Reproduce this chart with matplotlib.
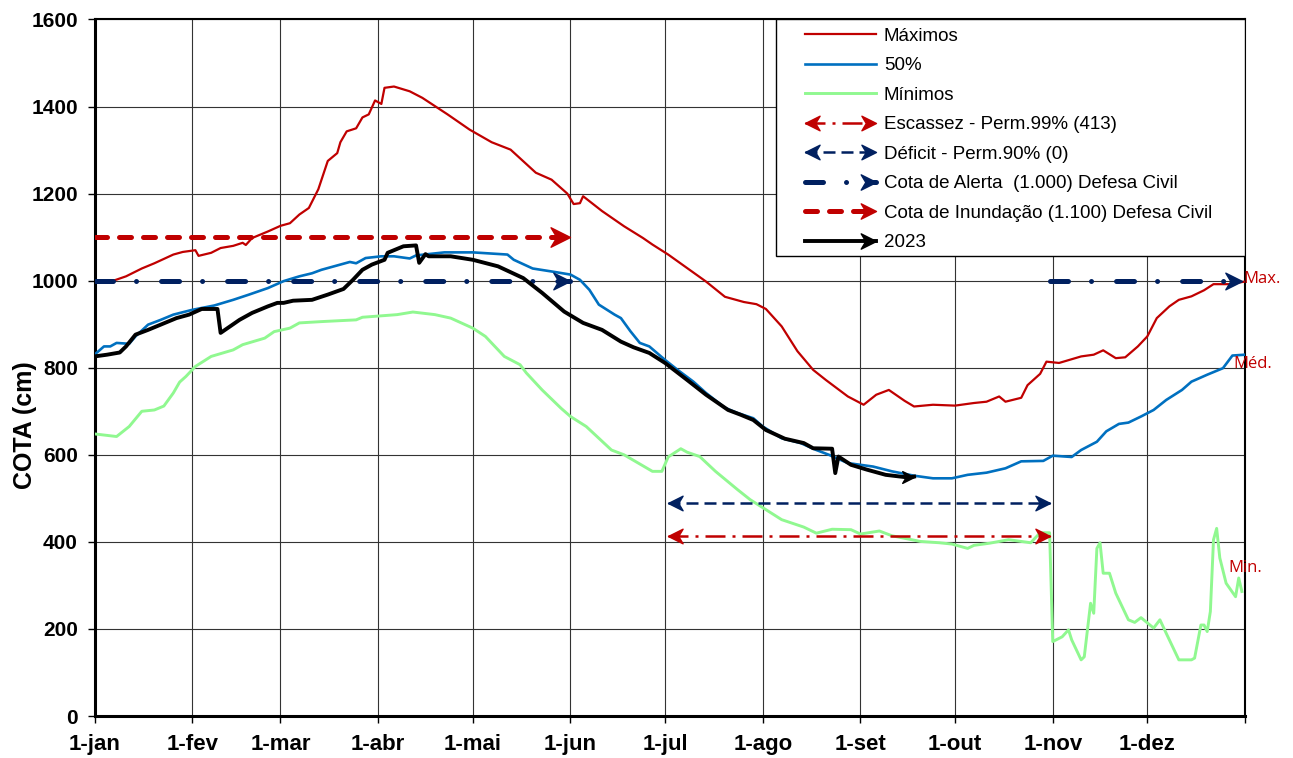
import matplotlib
matplotlib.use("Agg")
import matplotlib.pyplot as plt
from matplotlib.lines import Line2D
from matplotlib.path import Path
from matplotlib.patches import Rectangle
from matplotlib.legend_handler import HandlerBase

plt.rcParams['font.family'] = ['Liberation Sans', 'DejaVu Sans']

# --- data (day of year, cota in cm) ---
month_days = [0, 31, 59, 90, 120, 151, 181, 212, 243, 273, 304, 334, 365]
month_labels = ['1-jan', '1-fev', '1-mar', '1-abr', '1-mai', '1-jun', '1-jul',
                '1-ago', '1-set', '1-out', '1-nov', '1-dez', '']

max_days = [0, 6, 10, 15, 19, 25, 28, 32, 33, 37, 40, 44, 47, 48, 50, 55, 59, 62, 65, 68,
            71, 74, 77, 78, 80, 83, 85, 87, 89, 91, 92, 95, 100, 104, 112, 119, 126, 132,
            140, 145, 150, 152, 154, 155, 161, 168, 174, 177, 182, 188, 194, 200, 206, 210,
            213, 218, 223, 228, 232, 239, 244, 248, 252, 257, 260, 266, 273, 279, 283, 287,
            289, 294, 296, 300, 302, 306, 313, 317, 320, 324, 327, 331, 334, 337, 341, 344,
            348, 352, 355, 360, 365]
max_vals = [995, 1000, 1010, 1028, 1040, 1060, 1066, 1070, 1057, 1064, 1075, 1080, 1087,
            1082, 1098, 1113, 1126, 1132, 1152, 1167, 1210, 1275, 1293, 1318, 1343, 1350,
            1375, 1382, 1414, 1406, 1443, 1446, 1435, 1420, 1382, 1347, 1318, 1301, 1248,
            1232, 1200, 1176, 1178, 1194, 1160, 1125, 1098, 1083, 1060, 1029, 998, 963, 951,
            946, 935, 895, 838, 795, 772, 734, 715, 738, 749, 724, 711, 715, 713, 719, 722,
            734, 722, 731, 760, 786, 814, 811, 826, 830, 840, 822, 824, 849, 872, 914, 941,
            956, 964, 978, 992, 992, 998]

med_days = [0, 3, 5, 7, 11, 13, 17, 21, 25, 31, 38, 44, 49, 55, 60, 65, 69, 72, 76, 81, 83,
            86, 91, 95, 100, 102, 111, 120, 131, 133, 139, 146, 151, 154, 157, 160, 165, 167,
            170, 173, 176, 181, 185, 190, 194, 200, 204, 209, 212, 218, 224, 229, 233, 239,
            243, 247, 253, 260, 266, 272, 277, 283, 289, 294, 301, 304, 310, 313, 318, 321,
            325, 328, 332, 336, 340, 345, 348, 353, 358, 361, 365]
med_vals = [830, 849, 849, 857, 855, 872, 899, 910, 922, 933, 943, 956, 968, 983, 999, 1010,
            1017, 1025, 1033, 1043, 1040, 1052, 1056, 1056, 1051, 1058, 1065, 1065, 1060,
            1048, 1028, 1020, 1014, 1002, 979, 945, 922, 914, 884, 857, 849, 818, 795, 768,
            742, 708, 696, 684, 665, 638, 627, 611, 600, 581, 577, 573, 562, 552, 546, 546,
            554, 559, 569, 585, 586, 598, 595, 611, 630, 654, 671, 674, 688, 703, 726, 749,
            768, 784, 799, 828, 830]

min_days = [0, 7, 11, 15, 19, 22, 25, 27, 29, 32, 37, 44, 47, 54, 57, 62, 65, 72, 83, 85, 96,
            101, 108, 113, 120, 124, 130, 135, 137, 142, 148, 151, 156, 164, 168, 177, 180,
            182, 186, 188, 192, 197, 204, 208, 213, 218, 225, 229, 234, 240, 243, 249, 253,
            262, 268, 272, 277, 279, 284, 290, 297, 300, 303, 304, 307, 309, 310, 313, 314,
            316, 317, 318, 319, 320, 322, 324, 328, 330, 332, 336, 338, 340, 344, 348, 349,
            351, 352, 353, 354, 355, 356, 357, 359, 362, 363, 364]
min_vals = [648, 642, 665, 700, 703, 712, 742, 767, 780, 803, 826, 841, 853, 868, 883, 891,
            903, 906, 910, 916, 922, 928, 922, 914, 891, 872, 826, 807, 788, 749, 707, 688,
            665, 611, 600, 562, 562, 595, 614, 606, 596, 562, 520, 497, 474, 451, 434, 420,
            429, 428, 418, 425, 414, 401, 398, 395, 385, 392, 397, 405, 398, 421, 421, 171,
            182, 198, 175, 129, 136, 259, 236, 385, 398, 328, 328, 282, 221, 215, 226, 202,
            221, 190, 129, 129, 133, 209, 209, 194, 240, 405, 431, 363, 305, 274, 317, 286]

y2023_days = [0, 4, 8, 10, 13, 17, 21, 26, 30, 34, 39, 40, 43, 46, 50, 55, 58, 60, 63, 69,
              74, 79, 82, 85, 88, 92, 93, 98, 102, 103, 105, 106, 113, 120, 128, 136, 142,
              149, 155, 161, 167, 171, 176, 181, 188, 194, 201, 205, 209, 213, 219, 225, 228,
              234, 235, 236, 240, 245, 251, 258, 260]
y2023_vals = [826, 830, 835, 849, 876, 887, 899, 914, 922, 935, 935, 880, 895, 910, 926, 941,
              949, 949, 954, 956, 968, 981, 1002, 1025, 1037, 1048, 1064, 1079, 1081, 1041,
              1061, 1056, 1056, 1048, 1033, 1006, 972, 929, 903, 887, 860, 847, 834, 811, 772,
              738, 703, 692, 680, 657, 637, 627, 615, 614, 558, 596, 577, 566, 554, 548, 550]

inundacao_level = 1100
inundacao_span = [0, 151]
alerta_level = 1000
alerta_spans = [[0, 151], [303, 364]]
deficit_level = 490
deficit_span = [182, 303]
escassez_level = 413
escassez_span = [182, 303]

RED = '#C00000'
NAVY = '#002060'
BLUE = '#0070C0'
GREEN = '#90F890'

# stealth-style arrow head markers (tip at origin)
ARROW_R = Path([(0, 0), (-1, 0.5), (-0.7, 0), (-1, -0.5), (0, 0)],
               [Path.MOVETO, Path.LINETO, Path.LINETO, Path.LINETO, Path.CLOSEPOLY])
ARROW_L = Path([(0, 0), (1, 0.5), (0.7, 0), (1, -0.5), (0, 0)],
               [Path.MOVETO, Path.LINETO, Path.LINETO, Path.LINETO, Path.CLOSEPOLY])


class ArrowLegend(HandlerBase):
    def __init__(self, left=False, right=True, ms=20):
        super().__init__()
        self.left = left
        self.right = right
        self.ms = ms

    def create_artists(self, legend, orig_handle, xdescent, ydescent, width, height,
                       fontsize, trans):
        y = height / 2 - ydescent
        x0 = -xdescent
        x1 = -xdescent + width
        shaft = Line2D([x0, x1], [y, y])
        shaft.update_from(orig_handle)
        shaft.set_marker('None')
        arts = [shaft]
        c = orig_handle.get_color()
        if self.right:
            arts.append(Line2D([x1], [y], marker=ARROW_R, ms=self.ms, color=c, ls='none'))
        if self.left:
            arts.append(Line2D([x0], [y], marker=ARROW_L, ms=self.ms, color=c, ls='none'))
        for a in arts:
            a.set_transform(trans)
        return arts


fig = plt.figure(figsize=(12.93, 7.58), dpi=100)
ax = fig.add_axes([0.0731, 0.0554, 0.8898, 0.9189])

l_max, = ax.plot(max_days, max_vals, color=RED, lw=1.6, zorder=3)
l_med, = ax.plot(med_days, med_vals, color=BLUE, lw=1.9, zorder=3)
l_min, = ax.plot(min_days, min_vals, color=GREEN, lw=2.1, zorder=3)

# escassez / deficit double arrows
l_esc, = ax.plot(escassez_span, [escassez_level] * 2, color=RED, lw=1.8,
                 dashes=(8, 2.8, 1.2, 2.8), zorder=3)
ax.plot([escassez_span[1]], [escassez_level], ls='none', marker=ARROW_R, ms=21, color=RED, zorder=3)
ax.plot([escassez_span[0]], [escassez_level], ls='none', marker=ARROW_L, ms=21, color=RED, zorder=3)

l_def, = ax.plot(deficit_span, [deficit_level] * 2, color=NAVY, lw=1.8,
                 dashes=(4.8, 2.4), zorder=3)
ax.plot([deficit_span[1]], [deficit_level], ls='none', marker=ARROW_R, ms=21, color=NAVY, zorder=3)
ax.plot([deficit_span[0]], [deficit_level], ls='none', marker=ARROW_L, ms=21, color=NAVY, zorder=3)

# Defesa Civil levels
l_ale = None
for span in alerta_spans:
    ln, = ax.plot(span, [alerta_level] * 2, color=NAVY, lw=3.6,
                  dashes=(3.6, 4.6, 0.01, 5.0), dash_capstyle='round', zorder=3)
    ax.plot([span[1]], [alerta_level], ls='none', marker=ARROW_R, ms=24, color=NAVY, zorder=3)
    if l_ale is None:
        l_ale = ln

l_inu, = ax.plot(inundacao_span, [inundacao_level] * 2, color=RED, lw=3.6,
                 dashes=(2.4, 2.4), dash_capstyle='round', zorder=3)
ax.plot([inundacao_span[1]], [inundacao_level], ls='none', marker=ARROW_R, ms=28, color=RED, zorder=3)

l_23, = ax.plot(y2023_days, y2023_vals, color='black', lw=2.8, zorder=4)
ax.plot([y2023_days[-1]], [y2023_vals[-1]], ls='none', marker=ARROW_R, ms=17, color='black', zorder=4)

# right side labels
ax.text(364.4, 1005, 'Max.', color=RED, fontsize=12, family='Open Sans', va='center',
        ha='left', clip_on=False)
ax.text(361.2, 809, 'Méd.', color=RED, fontsize=12, family='Open Sans', va='center',
        ha='left', clip_on=False)
ax.text(359.6, 340, 'Min.', color=RED, fontsize=12, family='Open Sans', va='center',
        ha='left', clip_on=False)

ax.set_xlim(0, 365)
ax.set_ylim(0, 1600)
ax.set_xticks(month_days)
ax.set_xticklabels(month_labels)
ax.set_yticks(range(0, 1601, 200))
ax.grid(True, color='#333333', lw=0.8)
ax.set_axisbelow(True)
ax.tick_params(axis='y', direction='out', length=5, width=1, labelsize=15, pad=7)
ax.tick_params(axis='x', direction='out', length=5, width=1, labelsize=16, pad=8)
for lab in ax.get_xticklabels() + ax.get_yticklabels():
    lab.set_fontweight('bold')
for side in ['left', 'bottom']:
    ax.spines[side].set_linewidth(2.2)
for side in ['top', 'right']:
    ax.spines[side].set_linewidth(1.5)

ax.set_ylabel('COTA (cm)', fontsize=18, fontweight='bold')
ax.yaxis.set_label_coords(-0.050, 0.418)

# legend box
ax.add_patch(Rectangle((0.592, 0.661), 0.408, 0.339, transform=ax.transAxes,
                       fc='white', ec='black', lw=1, zorder=5))
handles = [l_max, l_med, l_min, l_esc, l_def, l_ale, l_inu, l_23]
labels = ['Máximos', '50%', 'Mínimos', 'Escassez - Perm.99% (413)', 'Déficit - Perm.90% (0)',
          'Cota de Alerta  (1.000) Defesa Civil', 'Cota de Inundação (1.100) Defesa Civil', '2023']
hmap = {
    l_esc: ArrowLegend(left=True, right=True, ms=21),
    l_def: ArrowLegend(left=True, right=True, ms=21),
    l_ale: ArrowLegend(right=True, ms=22),
    l_inu: ArrowLegend(right=True, ms=22),
    l_23: ArrowLegend(right=True, ms=22),
}
leg = ax.legend(handles, labels, loc='upper left', bbox_to_anchor=(0.6176, 0.988),
                frameon=False, borderpad=0, borderaxespad=0, handlelength=3.8,
                handletextpad=0.4, labelspacing=0.66, fontsize=13.5, handler_map=hmap)
leg.set_zorder(6)

fig.savefig('out.png', dpi=100)
